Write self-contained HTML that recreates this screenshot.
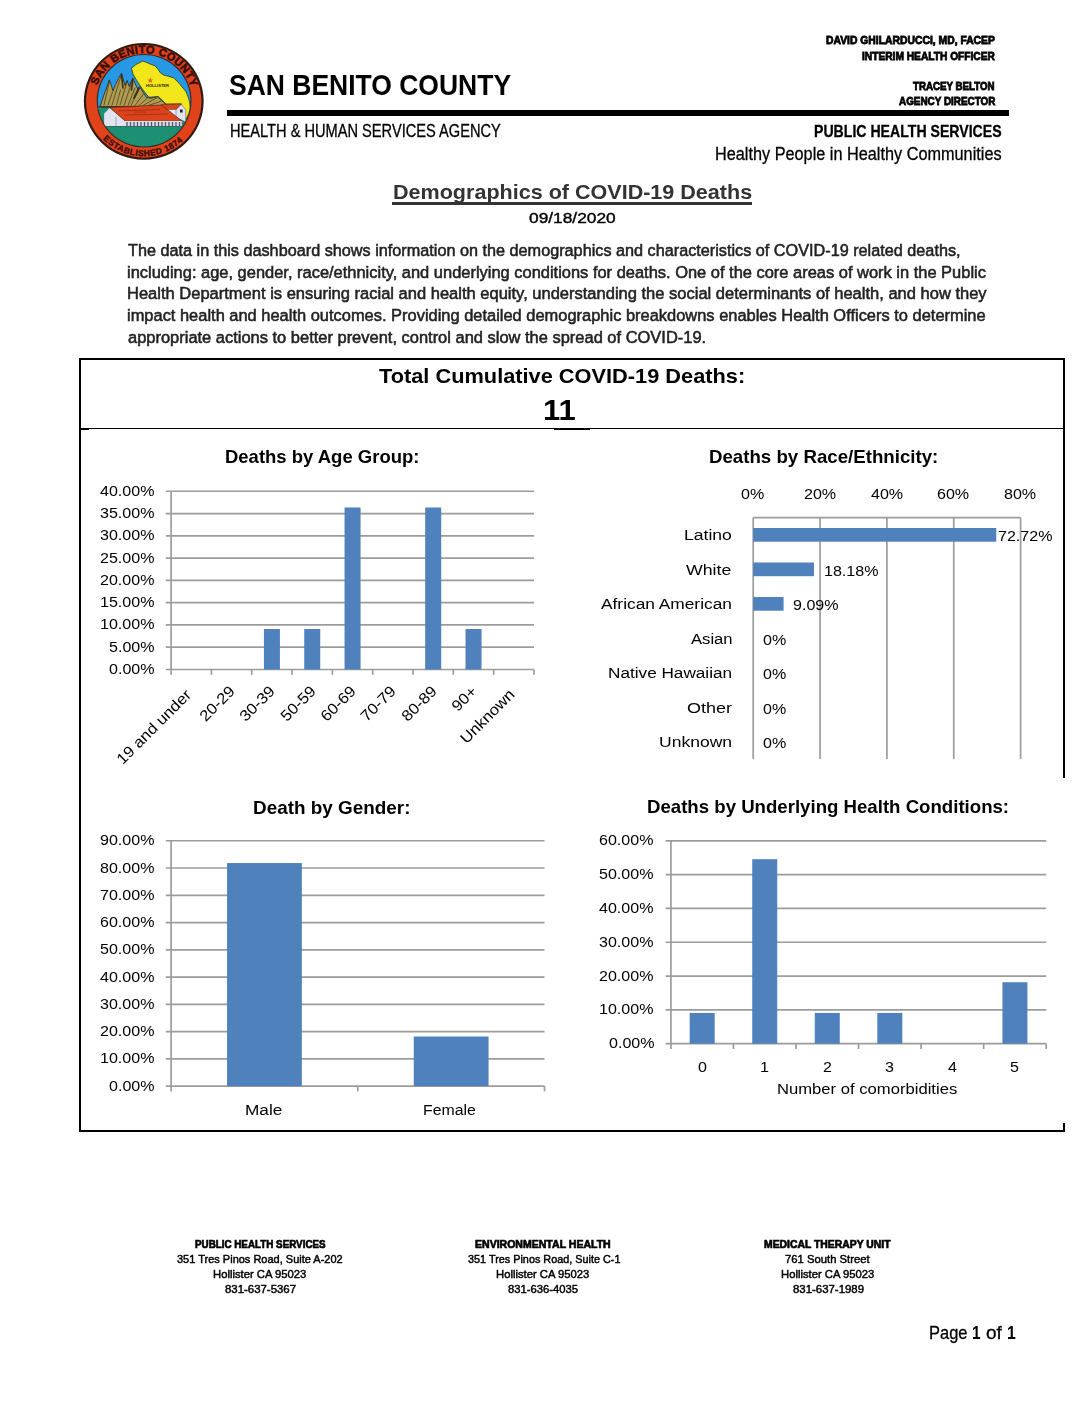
<!DOCTYPE html>
<html><head><meta charset="utf-8"><title>Demographics of COVID-19 Deaths</title>
<style>
html,body{margin:0;padding:0;background:#fff;}
body{width:1088px;height:1408px;position:relative;overflow:hidden;font-family:"Liberation Sans",sans-serif;color:#000;}
.t{position:absolute;white-space:pre;line-height:1;transform-origin:0 0;font-family:"Liberation Sans",sans-serif;}
.r{position:absolute;background:#000;}
svg{position:absolute;left:0;top:0;}
</style></head><body>
<svg width="1088" height="1408" viewBox="0 0 1088 1408">
<g id="logo">
<defs>
<clipPath id="lc"><ellipse cx="144.1" cy="100.7" rx="46.3" ry="45.7"/></clipPath>
<path id="arcTop" d="M 94.45 101.35 A 49.3 48.3 0 0 1 193.05 101.35"/>
<path id="arcBot" d="M 87.55 101.35 A 56.2 54.9 0 0 0 199.95 101.35"/>
</defs>
<ellipse cx="143.75" cy="101.35" rx="59.9" ry="58.4" fill="#2e1a12"/>
<ellipse cx="143.75" cy="101.35" rx="57.7" ry="56.3" fill="#e0421a"/>
<ellipse cx="144.1" cy="100.7" rx="47.4" ry="46.8" fill="#33271f"/>
<g clip-path="url(#lc)">
<rect x="90" y="50" width="110" height="60" fill="#2698e4"/>
<rect x="90" y="106.9" width="110" height="45" fill="#1d9073"/>
<!-- county -->
<path d="M131.5 68.3 L136 64.5 L142.9 61 L149 63.5 L155 65.9 L158.4 69.7 L160.5 73 L164 75.2 L169 76.4 L173.6 77.9 L177 81 L179.8 84.1 L183 88 L186 91.7 L188.2 97 L189.6 102 L190.2 107 L189 113 L186.5 118.5 L181 118 L181 104 L166 104 L158.4 96.6 L148.8 97.2 L143 90 L136.4 80 L133 74 Z" fill="#f1e71b" stroke="#3a4a20" stroke-width="0.9" stroke-linejoin="round"/>
<!-- mountains -->
<path d="M100 107 L103.5 96 L106.5 88 L109.3 79.9 L111.5 86 L113 91 L115.5 84.5 L118.5 78.5 L121.5 73.1 L123.5 80 L125 85.5 L127.2 80.5 L129.2 86.5 L131 82 L132.8 78 L135 83.5 L137.5 88.5 L139.5 86.5 L143 92 L146.5 97.5 L151 98.2 L157.5 96.8 L161.5 100.5 L166.5 105.2 L167 107 Z" fill="#b09c50" stroke="#2b2316" stroke-width="0.8" stroke-linejoin="round"/>
<g stroke="#3a2f1c" stroke-width="0.7" fill="none" stroke-linecap="round">
<path d="M104 105 L109.3 82"/><path d="M108 105 L112.5 92"/><path d="M112 105 L121.3 75"/><path d="M116.5 105 L120.5 90"/>
<path d="M120 105 L127 82"/><path d="M124 105.5 L132.5 80"/><path d="M128 105.5 L135 88"/><path d="M131 105.5 L139.5 88.5"/>
<path d="M135 105.5 L143.5 94"/><path d="M139 105.5 L147 98.5"/><path d="M143 105.5 L156.5 98"/><path d="M148 105.5 L160.5 101.5"/>
<path d="M121.5 75 L123 88" stroke-width="1.6"/><path d="M132.8 79.5 L131.5 90" stroke-width="1.6"/><path d="M139 88 L134 98" stroke-width="1.8"/>
</g>
<!-- horizon -->
<path d="M96 106.9 L168 106.2" stroke="#2b2316" stroke-width="1"/>
<!-- building -->
<path d="M104.1 113.7 L109.6 107.9 L125 120.7 L125 126.2 L104.1 126.2 Z" fill="#e3e2f0"/>
<path d="M116 117 L116 126" stroke="#9a9ab0" stroke-width="0.8"/>
<path d="M161.2 104.7 L181.6 103.8 L176 109.8 L165.7 109.8 Z" fill="#d8461c" stroke="#6a2412" stroke-width="0.6"/>
<path d="M165.7 109.8 L176 109.8 L176 117.5 Z" fill="#e8e6f2"/>
<path d="M176 109.8 L181.2 104.4 L185.7 109.8 L185.7 122 L176 117.5 Z" fill="#e3e2f0" stroke="#55506a" stroke-width="0.5"/>
<rect x="180" y="109.5" width="2.6" height="3" fill="#1c1c3a"/>
<path d="M109.8 107.4 L161.5 105 L181.8 120.9 L125 120.9 Z" fill="#dc431a" stroke="#6a2412" stroke-width="0.7" stroke-linejoin="round"/>
<path d="M118 111 L160 109.5 M124 115 L168 114 M135 112.2 L146 112" stroke="#a8301a" stroke-width="0.9" fill="none"/>
<rect x="125" y="120.9" width="56.8" height="5.5" fill="#dcdce8"/>
<path d="M127 122 v4 M130.5 122 v4 M134 122 v4 M137.5 122 v4 M141 122 v4 M144.5 122 v4 M148 122 v4 M151.5 122 v4 M155 122 v4 M158.5 122 v4 M162 122 v4 M165.5 122 v4 M169 122 v4 M172.5 122 v4 M176 122 v4 M179.5 122 v4" stroke="#50506a" stroke-width="1.3"/>
<path d="M104 126.5 L182 126.5" stroke="#2a5a50" stroke-width="0.8"/>
<!-- star + hollister -->
<path d="M150.3 77.3 L151.05 79.4 L153.3 79.45 L151.5 80.8 L152.15 82.95 L150.3 81.65 L148.45 82.95 L149.1 80.8 L147.3 79.45 L149.55 79.4 Z" fill="#e0651a"/>
<text x="157.5" y="86.8" font-family="Liberation Sans" font-weight="bold" font-size="3.4" text-anchor="middle" textLength="23" lengthAdjust="spacingAndGlyphs" fill="#2a2410">HOLLISTER</text>
</g>
<text font-family="Liberation Sans" font-weight="bold" font-size="11" fill="#380e0a" stroke="#380e0a" stroke-width="0.55" text-anchor="middle" textLength="122.5" lengthAdjust="spacing"><textPath href="#arcTop" startOffset="50.6%" textLength="122.5" lengthAdjust="spacing">SAN BENITO COUNTY</textPath></text>
<text font-family="Liberation Sans" font-weight="bold" font-size="8.6" fill="#380e0a" stroke="#380e0a" stroke-width="0.3" text-anchor="middle" textLength="88.5" lengthAdjust="spacing"><textPath href="#arcBot" startOffset="49.3%" textLength="88.5" lengthAdjust="spacing">ESTABLISHED 1874</textPath></text>
</g>

<line x1="165.80" y1="669.50" x2="534.00" y2="669.50" stroke="#9c9c9c" stroke-width="1.7"/>
<line x1="165.80" y1="647.22" x2="534.00" y2="647.22" stroke="#9c9c9c" stroke-width="1.7"/>
<line x1="165.80" y1="624.94" x2="534.00" y2="624.94" stroke="#9c9c9c" stroke-width="1.7"/>
<line x1="165.80" y1="602.66" x2="534.00" y2="602.66" stroke="#9c9c9c" stroke-width="1.7"/>
<line x1="165.80" y1="580.38" x2="534.00" y2="580.38" stroke="#9c9c9c" stroke-width="1.7"/>
<line x1="165.80" y1="558.10" x2="534.00" y2="558.10" stroke="#9c9c9c" stroke-width="1.7"/>
<line x1="165.80" y1="535.82" x2="534.00" y2="535.82" stroke="#9c9c9c" stroke-width="1.7"/>
<line x1="165.80" y1="513.54" x2="534.00" y2="513.54" stroke="#9c9c9c" stroke-width="1.7"/>
<line x1="165.80" y1="491.26" x2="534.00" y2="491.26" stroke="#9c9c9c" stroke-width="1.7"/>
<line x1="171.10" y1="491.26" x2="171.10" y2="674.80" stroke="#9c9c9c" stroke-width="1.7"/>
<line x1="211.42" y1="669.50" x2="211.42" y2="674.80" stroke="#9c9c9c" stroke-width="1.7"/>
<line x1="251.74" y1="669.50" x2="251.74" y2="674.80" stroke="#9c9c9c" stroke-width="1.7"/>
<line x1="292.07" y1="669.50" x2="292.07" y2="674.80" stroke="#9c9c9c" stroke-width="1.7"/>
<line x1="332.39" y1="669.50" x2="332.39" y2="674.80" stroke="#9c9c9c" stroke-width="1.7"/>
<line x1="372.71" y1="669.50" x2="372.71" y2="674.80" stroke="#9c9c9c" stroke-width="1.7"/>
<line x1="413.03" y1="669.50" x2="413.03" y2="674.80" stroke="#9c9c9c" stroke-width="1.7"/>
<line x1="453.36" y1="669.50" x2="453.36" y2="674.80" stroke="#9c9c9c" stroke-width="1.7"/>
<line x1="493.68" y1="669.50" x2="493.68" y2="674.80" stroke="#9c9c9c" stroke-width="1.7"/>
<line x1="534.00" y1="669.50" x2="534.00" y2="674.80" stroke="#9c9c9c" stroke-width="1.7"/>
<rect x="263.91" y="628.99" width="16.00" height="40.51" fill="#4f81bd"/>
<rect x="304.23" y="628.99" width="16.00" height="40.51" fill="#4f81bd"/>
<rect x="344.55" y="507.48" width="16.00" height="162.02" fill="#4f81bd"/>
<rect x="425.19" y="507.48" width="16.00" height="162.02" fill="#4f81bd"/>
<rect x="465.52" y="628.99" width="16.00" height="40.51" fill="#4f81bd"/>
<line x1="753.20" y1="517.60" x2="753.20" y2="759.10" stroke="#9c9c9c" stroke-width="1.7"/>
<line x1="820.05" y1="517.60" x2="820.05" y2="759.10" stroke="#9c9c9c" stroke-width="1.7"/>
<line x1="886.90" y1="517.60" x2="886.90" y2="759.10" stroke="#9c9c9c" stroke-width="1.7"/>
<line x1="953.75" y1="517.60" x2="953.75" y2="759.10" stroke="#9c9c9c" stroke-width="1.7"/>
<line x1="1020.60" y1="517.60" x2="1020.60" y2="759.10" stroke="#9c9c9c" stroke-width="1.7"/>
<line x1="753.20" y1="517.60" x2="1020.60" y2="517.60" stroke="#9c9c9c" stroke-width="1.7"/>
<rect x="753.20" y="528.00" width="243.07" height="13.70" fill="#4f81bd"/>
<rect x="753.20" y="562.50" width="60.77" height="13.70" fill="#4f81bd"/>
<rect x="753.20" y="597.00" width="30.38" height="13.70" fill="#4f81bd"/>
<line x1="165.80" y1="1086.10" x2="544.50" y2="1086.10" stroke="#9c9c9c" stroke-width="1.7"/>
<line x1="165.80" y1="1058.84" x2="544.50" y2="1058.84" stroke="#9c9c9c" stroke-width="1.7"/>
<line x1="165.80" y1="1031.58" x2="544.50" y2="1031.58" stroke="#9c9c9c" stroke-width="1.7"/>
<line x1="165.80" y1="1004.32" x2="544.50" y2="1004.32" stroke="#9c9c9c" stroke-width="1.7"/>
<line x1="165.80" y1="977.06" x2="544.50" y2="977.06" stroke="#9c9c9c" stroke-width="1.7"/>
<line x1="165.80" y1="949.80" x2="544.50" y2="949.80" stroke="#9c9c9c" stroke-width="1.7"/>
<line x1="165.80" y1="922.54" x2="544.50" y2="922.54" stroke="#9c9c9c" stroke-width="1.7"/>
<line x1="165.80" y1="895.28" x2="544.50" y2="895.28" stroke="#9c9c9c" stroke-width="1.7"/>
<line x1="165.80" y1="868.02" x2="544.50" y2="868.02" stroke="#9c9c9c" stroke-width="1.7"/>
<line x1="165.80" y1="840.76" x2="544.50" y2="840.76" stroke="#9c9c9c" stroke-width="1.7"/>
<line x1="171.10" y1="840.76" x2="171.10" y2="1091.40" stroke="#9c9c9c" stroke-width="1.7"/>
<line x1="357.80" y1="1086.10" x2="357.80" y2="1091.40" stroke="#9c9c9c" stroke-width="1.7"/>
<line x1="544.50" y1="1086.10" x2="544.50" y2="1091.40" stroke="#9c9c9c" stroke-width="1.7"/>
<rect x="227.05" y="863.06" width="74.80" height="223.04" fill="#4f81bd"/>
<rect x="413.75" y="1036.54" width="74.80" height="49.56" fill="#4f81bd"/>
<line x1="665.60" y1="1043.70" x2="1046.20" y2="1043.70" stroke="#9c9c9c" stroke-width="1.7"/>
<line x1="665.60" y1="1009.88" x2="1046.20" y2="1009.88" stroke="#9c9c9c" stroke-width="1.7"/>
<line x1="665.60" y1="976.06" x2="1046.20" y2="976.06" stroke="#9c9c9c" stroke-width="1.7"/>
<line x1="665.60" y1="942.24" x2="1046.20" y2="942.24" stroke="#9c9c9c" stroke-width="1.7"/>
<line x1="665.60" y1="908.42" x2="1046.20" y2="908.42" stroke="#9c9c9c" stroke-width="1.7"/>
<line x1="665.60" y1="874.60" x2="1046.20" y2="874.60" stroke="#9c9c9c" stroke-width="1.7"/>
<line x1="665.60" y1="840.78" x2="1046.20" y2="840.78" stroke="#9c9c9c" stroke-width="1.7"/>
<line x1="670.90" y1="840.78" x2="670.90" y2="1049.00" stroke="#9c9c9c" stroke-width="1.7"/>
<line x1="733.45" y1="1043.70" x2="733.45" y2="1049.00" stroke="#9c9c9c" stroke-width="1.7"/>
<line x1="796.00" y1="1043.70" x2="796.00" y2="1049.00" stroke="#9c9c9c" stroke-width="1.7"/>
<line x1="858.55" y1="1043.70" x2="858.55" y2="1049.00" stroke="#9c9c9c" stroke-width="1.7"/>
<line x1="921.10" y1="1043.70" x2="921.10" y2="1049.00" stroke="#9c9c9c" stroke-width="1.7"/>
<line x1="983.65" y1="1043.70" x2="983.65" y2="1049.00" stroke="#9c9c9c" stroke-width="1.7"/>
<line x1="1046.20" y1="1043.70" x2="1046.20" y2="1049.00" stroke="#9c9c9c" stroke-width="1.7"/>
<rect x="689.67" y="1012.96" width="25.00" height="30.74" fill="#4f81bd"/>
<rect x="752.23" y="859.21" width="25.00" height="184.49" fill="#4f81bd"/>
<rect x="814.77" y="1012.96" width="25.00" height="30.74" fill="#4f81bd"/>
<rect x="877.33" y="1012.96" width="25.00" height="30.74" fill="#4f81bd"/>
<rect x="1002.43" y="982.22" width="25.00" height="61.48" fill="#4f81bd"/>
</svg>
<div class="r" style="left:227px;top:110px;width:782px;height:6px"></div>
<div class="r" style="left:392px;top:202px;width:360px;height:3px;background:#333"></div>
<!-- box -->
<div class="r" style="left:79px;top:358px;width:986px;height:2px"></div>
<div class="r" style="left:79px;top:358px;width:2px;height:774px"></div>
<div class="r" style="left:1063px;top:358px;width:2px;height:420px"></div>
<div class="r" style="left:1063px;top:1123px;width:2px;height:9px"></div>
<div class="r" style="left:79px;top:1130.4px;width:986px;height:1.6px"></div>
<div class="r" style="left:80px;top:427.9px;width:984px;height:1.1px"></div>
<div class="r" style="left:80px;top:428px;width:9px;height:2px"></div>
<div class="r" style="left:554px;top:428.6px;width:36px;height:1.6px"></div>
<div id="tx" style="position:absolute;left:0;top:0;width:1088px;height:1408px;will-change:transform">
<span class="t" style="left:229.29px;top:71px;font-size:29.07px;transform:scaleX(0.9114);font-weight:bold;">SAN BENITO COUNTY</span>
<span class="t" style="left:230.19px;top:122px;font-size:18.02px;transform:scaleX(0.8114);-webkit-text-stroke:0.30px #000;">HEALTH &amp; HUMAN SERVICES AGENCY</span>
<span class="t" style="left:825.60px;top:35px;font-size:11.48px;transform:scaleX(0.9027);font-weight:bold;-webkit-text-stroke:0.80px #000;">DAVID GHILARDUCCI, MD, FACEP</span>
<span class="t" style="left:862.40px;top:51px;font-size:11.48px;transform:scaleX(0.8887);font-weight:bold;-webkit-text-stroke:0.80px #000;">INTERIM HEALTH OFFICER</span>
<span class="t" style="left:913.30px;top:81px;font-size:11.48px;transform:scaleX(0.8479);font-weight:bold;-webkit-text-stroke:0.80px #000;">TRACEY BELTON</span>
<span class="t" style="left:898.60px;top:96px;font-size:11.48px;transform:scaleX(0.8634);font-weight:bold;-webkit-text-stroke:0.80px #000;">AGENCY DIRECTOR</span>
<span class="t" style="left:813.88px;top:123px;font-size:17.15px;transform:scaleX(0.8229);font-weight:bold;-webkit-text-stroke:0.30px #000;">PUBLIC HEALTH SERVICES</span>
<span class="t" style="left:715.30px;top:145px;font-size:18.02px;transform:scaleX(0.9028);-webkit-text-stroke:0.30px #000;">Healthy People in Healthy Communities</span>
<span class="t" style="left:393.06px;top:182px;font-size:20.78px;transform:scaleX(1.0375);font-weight:bold;color:#333;">Demographics of COVID-19 Deaths</span>
<span class="t" style="left:528.70px;top:210px;font-size:15.29px;transform:scaleX(1.1329);-webkit-text-stroke:0.40px #000;">09/18/2020</span>
<span class="t" style="left:128.30px;top:243px;font-size:16.86px;transform:scaleX(0.9625);color:#222;-webkit-text-stroke:0.55px #222;">The data in this dashboard shows information on the demographics and characteristics of COVID-19 related deaths,</span>
<span class="t" style="left:127.32px;top:265px;font-size:16.86px;transform:scaleX(0.9753);color:#222;-webkit-text-stroke:0.55px #222;">including: age, gender, race/ethnicity, and underlying conditions for deaths. One of the core areas of work in the Public</span>
<span class="t" style="left:127.32px;top:286px;font-size:16.86px;transform:scaleX(0.9792);color:#222;-webkit-text-stroke:0.55px #222;">Health Department is ensuring racial and health equity, understanding the social determinants of health, and how they</span>
<span class="t" style="left:127.33px;top:308px;font-size:16.86px;transform:scaleX(0.9750);color:#222;-webkit-text-stroke:0.55px #222;">impact health and health outcomes. Providing detailed demographic breakdowns enables Health Officers to determine</span>
<span class="t" style="left:128.30px;top:330px;font-size:16.86px;transform:scaleX(0.9761);color:#222;-webkit-text-stroke:0.55px #222;">appropriate actions to better prevent, control and slow the spread of COVID-19.</span>
<span class="t" style="left:378.80px;top:365px;font-size:21.08px;transform:scaleX(1.0331);font-weight:bold;">Total Cumulative COVID-19 Deaths:</span>
<span class="t" style="left:543.17px;top:396px;font-size:29.07px;transform:scaleX(1.0643);font-weight:bold;">11</span>
<span class="t" style="left:224.79px;top:448px;font-size:18.31px;transform:scaleX(1.0100);font-weight:bold;">Deaths by Age Group:</span>
<span class="t" style="left:708.58px;top:448px;font-size:18.31px;transform:scaleX(1.0203);font-weight:bold;">Deaths by Race/Ethnicity:</span>
<span class="t" style="left:252.57px;top:799px;font-size:18.31px;transform:scaleX(1.0327);font-weight:bold;">Death by Gender:</span>
<span class="t" style="left:646.58px;top:798px;font-size:18.31px;transform:scaleX(1.0176);font-weight:bold;">Deaths by Underlying Health Conditions:</span>
<span class="t" style="left:109.05px;top:661px;font-size:15.30px;transform:scaleX(1.0500);">0.00%</span>
<span class="t" style="left:109.05px;top:639px;font-size:15.30px;transform:scaleX(1.0500);">5.00%</span>
<span class="t" style="left:99.60px;top:616px;font-size:15.30px;transform:scaleX(1.0500);">10.00%</span>
<span class="t" style="left:99.60px;top:594px;font-size:15.30px;transform:scaleX(1.0500);">15.00%</span>
<span class="t" style="left:99.60px;top:572px;font-size:15.30px;transform:scaleX(1.0500);">20.00%</span>
<span class="t" style="left:99.60px;top:550px;font-size:15.30px;transform:scaleX(1.0500);">25.00%</span>
<span class="t" style="left:99.60px;top:527px;font-size:15.30px;transform:scaleX(1.0500);">30.00%</span>
<span class="t" style="left:99.60px;top:505px;font-size:15.30px;transform:scaleX(1.0500);">35.00%</span>
<span class="t" style="left:99.60px;top:483px;font-size:15.30px;transform:scaleX(1.0500);">40.00%</span>
<span class="t" style="left:109.05px;top:1078px;font-size:15.30px;transform:scaleX(1.0500);">0.00%</span>
<span class="t" style="left:99.60px;top:1050px;font-size:15.30px;transform:scaleX(1.0500);">10.00%</span>
<span class="t" style="left:99.60px;top:1023px;font-size:15.30px;transform:scaleX(1.0500);">20.00%</span>
<span class="t" style="left:99.60px;top:996px;font-size:15.30px;transform:scaleX(1.0500);">30.00%</span>
<span class="t" style="left:99.60px;top:969px;font-size:15.30px;transform:scaleX(1.0500);">40.00%</span>
<span class="t" style="left:99.60px;top:941px;font-size:15.30px;transform:scaleX(1.0500);">50.00%</span>
<span class="t" style="left:99.60px;top:914px;font-size:15.30px;transform:scaleX(1.0500);">60.00%</span>
<span class="t" style="left:99.60px;top:887px;font-size:15.30px;transform:scaleX(1.0500);">70.00%</span>
<span class="t" style="left:99.60px;top:860px;font-size:15.30px;transform:scaleX(1.0500);">80.00%</span>
<span class="t" style="left:99.60px;top:832px;font-size:15.30px;transform:scaleX(1.0500);">90.00%</span>
<span class="t" style="left:608.85px;top:1035px;font-size:15.30px;transform:scaleX(1.0500);">0.00%</span>
<span class="t" style="left:599.40px;top:1001px;font-size:15.30px;transform:scaleX(1.0500);">10.00%</span>
<span class="t" style="left:599.40px;top:968px;font-size:15.30px;transform:scaleX(1.0500);">20.00%</span>
<span class="t" style="left:599.40px;top:934px;font-size:15.30px;transform:scaleX(1.0500);">30.00%</span>
<span class="t" style="left:599.40px;top:900px;font-size:15.30px;transform:scaleX(1.0500);">40.00%</span>
<span class="t" style="left:599.40px;top:866px;font-size:15.30px;transform:scaleX(1.0500);">50.00%</span>
<span class="t" style="left:599.40px;top:832px;font-size:15.30px;transform:scaleX(1.0500);">60.00%</span>
<span class="t" style="left:741.13px;top:486px;font-size:15.30px;transform:scaleX(1.0500);">0%</span>
<span class="t" style="left:803.78px;top:486px;font-size:15.30px;transform:scaleX(1.0500);">20%</span>
<span class="t" style="left:871.15px;top:486px;font-size:15.30px;transform:scaleX(1.0500);">40%</span>
<span class="t" style="left:937.48px;top:486px;font-size:15.30px;transform:scaleX(1.0500);">60%</span>
<span class="t" style="left:1004.33px;top:486px;font-size:15.30px;transform:scaleX(1.0500);">80%</span>
<span class="t" style="left:684.15px;top:527px;font-size:15.30px;transform:scaleX(1.1475);">Latino</span>
<span class="t" style="left:686.00px;top:562px;font-size:15.30px;transform:scaleX(1.1590);">White</span>
<span class="t" style="left:601.00px;top:596px;font-size:15.30px;transform:scaleX(1.1322);">African American</span>
<span class="t" style="left:691.00px;top:631px;font-size:15.30px;transform:scaleX(1.0865);">Asian</span>
<span class="t" style="left:607.68px;top:665px;font-size:15.30px;transform:scaleX(1.1229);">Native Hawaiian</span>
<span class="t" style="left:686.52px;top:700px;font-size:15.30px;transform:scaleX(1.1757);">Other</span>
<span class="t" style="left:659.05px;top:734px;font-size:15.30px;transform:scaleX(1.1452);">Unknown</span>
<span class="t" style="left:997.75px;top:528px;font-size:15.30px;transform:scaleX(1.0500);">72.72%</span>
<span class="t" style="left:824.45px;top:563px;font-size:15.30px;transform:scaleX(1.0500);">18.18%</span>
<span class="t" style="left:792.95px;top:597px;font-size:15.30px;transform:scaleX(1.0500);">9.09%</span>
<span class="t" style="left:763.25px;top:632px;font-size:15.30px;transform:scaleX(1.0500);">0%</span>
<span class="t" style="left:763.25px;top:666px;font-size:15.30px;transform:scaleX(1.0500);">0%</span>
<span class="t" style="left:763.25px;top:701px;font-size:15.30px;transform:scaleX(1.0500);">0%</span>
<span class="t" style="left:763.25px;top:735px;font-size:15.30px;transform:scaleX(1.0500);">0%</span>
<span class="t" style="left:245.27px;top:1102px;font-size:15.30px;transform:scaleX(1.1250);">Male</span>
<span class="t" style="left:422.56px;top:1102px;font-size:15.30px;transform:scaleX(1.0360);">Female</span>
<span class="t" style="left:697.53px;top:1059px;font-size:15.30px;transform:scaleX(1.0500);">0</span>
<span class="t" style="left:760.03px;top:1059px;font-size:15.30px;transform:scaleX(1.0500);">1</span>
<span class="t" style="left:822.53px;top:1059px;font-size:15.30px;transform:scaleX(1.0500);">2</span>
<span class="t" style="left:885.03px;top:1059px;font-size:15.30px;transform:scaleX(1.0500);">3</span>
<span class="t" style="left:948.05px;top:1059px;font-size:15.30px;transform:scaleX(1.0500);">4</span>
<span class="t" style="left:1010.03px;top:1059px;font-size:15.30px;transform:scaleX(1.0500);">5</span>
<span class="t" style="left:776.51px;top:1081px;font-size:15.30px;transform:scaleX(1.0873);">Number of comorbidities</span>
<span class="t" style="left:102.45px;top:682.85px;font-size:15.30px;transform-origin:90.00px 12.95px;transform:rotate(-45deg) scaleX(1.0900);">19 and under</span>
<span class="t" style="left:197.15px;top:680.15px;font-size:15.30px;transform-origin:38.00px 12.95px;transform:rotate(-45deg) scaleX(1.0900);">20-29</span>
<span class="t" style="left:237.45px;top:680.15px;font-size:15.30px;transform-origin:38.00px 12.95px;transform:rotate(-45deg) scaleX(1.0900);">30-39</span>
<span class="t" style="left:277.75px;top:680.15px;font-size:15.30px;transform-origin:38.00px 12.95px;transform:rotate(-45deg) scaleX(1.0900);">50-59</span>
<span class="t" style="left:318.05px;top:680.15px;font-size:15.30px;transform-origin:38.00px 12.95px;transform:rotate(-45deg) scaleX(1.0900);">60-69</span>
<span class="t" style="left:358.35px;top:680.15px;font-size:15.30px;transform-origin:38.00px 12.95px;transform:rotate(-45deg) scaleX(1.0900);">70-79</span>
<span class="t" style="left:398.65px;top:680.15px;font-size:15.30px;transform-origin:38.00px 12.95px;transform:rotate(-45deg) scaleX(1.0900);">80-89</span>
<span class="t" style="left:451.95px;top:680.15px;font-size:15.30px;transform-origin:25.00px 12.95px;transform:rotate(-45deg) scaleX(1.0900);">90+</span>
<span class="t" style="left:451.85px;top:682.85px;font-size:15.30px;transform-origin:63.00px 12.95px;transform:rotate(-45deg) scaleX(1.0900);">Unknown</span>
<span class="t" style="left:194.50px;top:1239px;font-size:11.34px;transform:scaleX(0.8669);font-weight:bold;-webkit-text-stroke:0.70px #000;">PUBLIC HEALTH SERVICES</span>
<span class="t" style="left:176.50px;top:1254px;font-size:11.34px;transform:scaleX(0.9708);-webkit-text-stroke:0.45px #000;">351 Tres Pinos Road, Suite A-202</span>
<span class="t" style="left:213.16px;top:1269px;font-size:11.34px;transform:scaleX(0.9946);-webkit-text-stroke:0.45px #000;">Hollister CA 95023</span>
<span class="t" style="left:225.15px;top:1284px;font-size:11.34px;transform:scaleX(1.0071);-webkit-text-stroke:0.45px #000;">831-637-5367</span>
<span class="t" style="left:475.30px;top:1239px;font-size:11.34px;transform:scaleX(0.9295);font-weight:bold;-webkit-text-stroke:0.70px #000;">ENVIRONMENTAL HEALTH</span>
<span class="t" style="left:467.60px;top:1254px;font-size:11.34px;transform:scaleX(0.9572);-webkit-text-stroke:0.45px #000;">351 Tres Pinos Road, Suite C-1</span>
<span class="t" style="left:496.46px;top:1269px;font-size:11.34px;transform:scaleX(0.9946);-webkit-text-stroke:0.45px #000;">Hollister CA 95023</span>
<span class="t" style="left:508.45px;top:1284px;font-size:11.34px;transform:scaleX(0.9930);-webkit-text-stroke:0.45px #000;">831-636-4035</span>
<span class="t" style="left:764.30px;top:1239px;font-size:11.34px;transform:scaleX(0.9167);font-weight:bold;-webkit-text-stroke:0.70px #000;">MEDICAL THERAPY UNIT</span>
<span class="t" style="left:785.00px;top:1254px;font-size:11.34px;transform:scaleX(0.9953);-webkit-text-stroke:0.45px #000;">761 South Street</span>
<span class="t" style="left:780.56px;top:1269px;font-size:11.34px;transform:scaleX(0.9946);-webkit-text-stroke:0.45px #000;">Hollister CA 95023</span>
<span class="t" style="left:792.55px;top:1284px;font-size:11.34px;transform:scaleX(1.0071);-webkit-text-stroke:0.45px #000;">831-637-1989</span>
<span class="t" style="left:928.89px;top:1324px;font-size:18.17px;transform:scaleX(0.9073);-webkit-text-stroke:0.30px #000;">Page</span>
<span class="t" style="left:972.26px;top:1324px;font-size:18.17px;transform:scaleX(0.8444);font-weight:bold;">1</span>
<span class="t" style="left:986.15px;top:1324px;font-size:18.17px;transform:scaleX(1.0467);-webkit-text-stroke:0.30px #000;">of</span>
<span class="t" style="left:1007.13px;top:1324px;font-size:18.17px;transform:scaleX(0.8667);font-weight:bold;">1</span>
</div>
</body></html>
